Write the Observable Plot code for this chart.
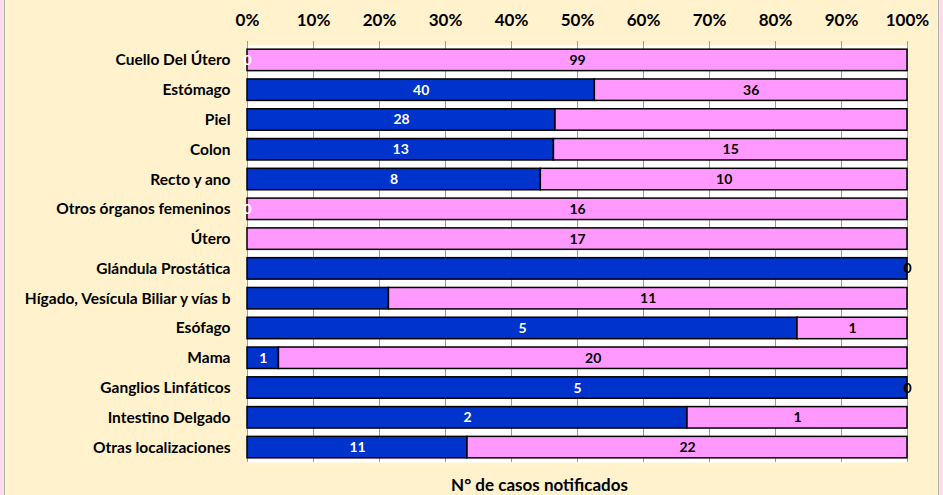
<!DOCTYPE html>
<html>
<head>
<meta charset="utf-8">
<script src="https://cdn.jsdelivr.net/npm/d3@7"></script>
<script src="https://cdn.jsdelivr.net/npm/@observablehq/plot@0.6"></script>
<style>
  html, body { margin: 0; padding: 0; background: #FFDCE8; }
  #wrap { margin-left: 4px; width: 933px; height: 495px; border-left: 1px solid #b0b0b0; border-right: 1px solid #b0b0b0; background: #FFF2CC; overflow: hidden; }
</style>
</head>
<body>
<div id="wrap"></div>
<script>
const categories = [
  "Cuello Del Útero", "Estómago", "Piel", "Colon", "Recto y ano",
  "Otros órganos femeninos", "Útero", "Glándula Prostática",
  "Hígado, Vesícula Biliar y vías b", "Esófago", "Mama",
  "Ganglios Linfáticos", "Intestino Delgado", "Otras localizaciones"
];
const hombres = [0, 40, 28, 13, 8, 0, 0, 14, 3, 5, 1, 5, 2, 11];
const mujeres = [99, 36, 32, 15, 10, 16, 17, 0, 11, 1, 20, 0, 1, 22];
const hombresLabels = ["0", "40", "28", "13", "8", "0", "", "", "", "5", "1", "5", "2", "11"];
const mujeresLabels = ["99", "36", "", "15", "10", "16", "17", "0", "11", "1", "20", "0", "1", "22"];
const xTicks = [0, 0.1, 0.2, 0.3, 0.4, 0.5, 0.6, 0.7, 0.8, 0.9, 1];
const xTitle = "N° de casos notificados";

const rows = [];
categories.forEach((c, i) => {
  rows.push({cat: c, sexo: "Hombres", value: hombres[i], label: hombresLabels[i]});
  rows.push({cat: c, sexo: "Mujeres", value: mujeres[i], label: mujeresLabels[i]});
});

const chart = Plot.plot({
  width: 933,
  height: 495,
  marginLeft: 242,
  marginRight: 31,
  marginTop: 45,
  marginBottom: 33,
  style: {fontFamily: "Lato, 'Open Sans', sans-serif", fontWeight: "bold", color: "#000", background: "transparent"},
  x: {domain: [0, 1], axis: null},
  y: {domain: categories, paddingInner: 0.28, paddingOuter: 0.14, round: false, axis: null},
  color: {domain: ["Hombres", "Mujeres"], range: ["#0033CC", "#FF99FF"]},
  marks: [
    Plot.frame({fill: "white", stroke: null}),
    Plot.gridX(xTicks, {stroke: "#9a9a9a", strokeOpacity: 1, strokeWidth: 1}),
    Plot.ruleY([0], {frameAnchor: "top", stroke: "#9a9a9a"}),
    Plot.axisX({anchor: "top", ticks: xTicks, tickFormat: d3.format(".0%"), tickSize: 5, tickPadding: 15, fontSize: 17, fontWeight: "bold", stroke: "#9a9a9a", label: null}),
    Plot.axisY({anchor: "left", tickSize: 0, tickPadding: 17, fontSize: 15.5, fontWeight: "bold", label: null}),
    Plot.ruleX([0], {stroke: "#9a9a9a"}),
    Plot.barX(rows, Plot.stackX({offset: "normalize", x: "value", y: "cat", fill: "sexo", stroke: "#000", strokeWidth: 1.5})),
    Plot.text(rows, Plot.stackX({offset: "normalize", x: "value", y: "cat", text: "label",
      fill: d => d.sexo === "Hombres" ? "white" : "black", fontSize: 14, fontWeight: "bold"})),
    Plot.text([xTitle], {frameAnchor: "bottom", dy: 28, dx: -38, fontSize: 17, fontWeight: "bold", fill: "black"})
  ]
});
document.getElementById("wrap").appendChild(chart);
</script>
</body>
</html>
